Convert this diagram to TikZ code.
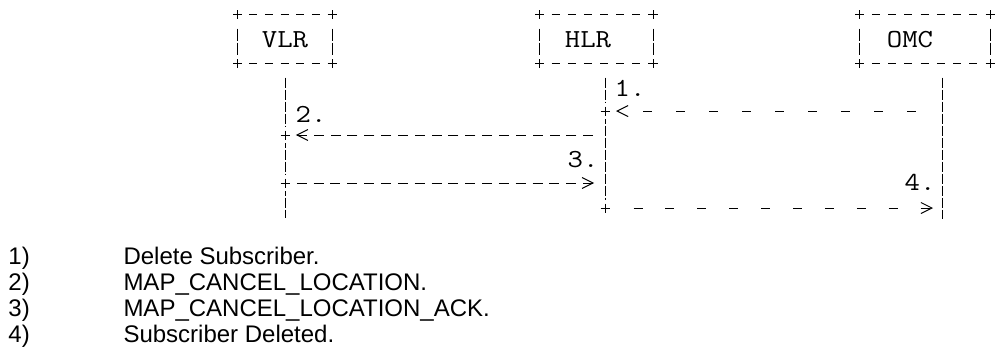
\documentclass[tikz,border=0pt]{standalone}
\usepackage{fontspec}
\usepackage{graphicx}
\setmainfont{Liberation Sans}
\usetikzlibrary{arrows.meta}
\newcommand\ascstr[1]{\scalebox{1.15}[1]{#1}}
\begin{document}
\begin{tikzpicture}[x=1pt, y=-1pt, line width=1pt,
  asc/.style={font=\ttfamily\fontsize{26}{26}\selectfont, inner sep=0pt, anchor=base},
  leg/.style={font=\fontsize{24}{26}\selectfont, inner sep=0pt, anchor=base west},
  ascbox/.style={draw=none, inner sep=0pt, minimum height=48pt, minimum width=#1},
  boxh/.style={dash pattern=on 8pt off #1, dash phase=4pt},
  boxv/.style={dash pattern=on 12pt off 2pt},
  life/.style={dash pattern=on 10pt off 2pt},
  dense/.style={dash pattern=on 10pt off 6.84pt},
  sparse/.style={dash pattern=on 9pt off #1},
  tip/.style={-{Straight Barb[length=11pt, width=11pt, line width=1pt]}},
  pls/.pic={\fill[white] (-3.5,-8) rectangle (3.5,8);
            \draw[solid] (-4.5,0) -- (4.5,0) (0,-4.5) -- (0,4.5);}
]
\useasboundingbox (0,0) rectangle (996,349);

% boxes
\node[ascbox=94pt]  (vlr) at (285,39)   {};
\node[ascbox=113pt] (hlr) at (596.5,39) {};
\node[ascbox=130pt] (omc) at (925,39)   {};
\node[asc] (vlrtxt) at (285,47) {\ascstr{VLR}};
\node[asc] (hlrtxt) at (588,47) {\ascstr{HLR}};
\node[asc] (omctxt) at (910,47) {\ascstr{OMC}};

\draw[boxh=7.67pt] (vlr.north west) -- (vlr.north east);
\draw[boxh=7.67pt] (vlr.south west) -- (vlr.south east);
\draw[boxh=8.14pt] (hlr.north west) -- (hlr.north east);
\draw[boxh=8.14pt] (hlr.south west) -- (hlr.south east);
\draw[boxh=8.25pt] (omc.north west) -- (omc.north east);
\draw[boxh=8.25pt] (omc.south west) -- (omc.south east);
\foreach \b in {vlr,hlr,omc}{
  \draw[boxv] ([yshift=-14pt]\b.north west) -- ([yshift=8pt]\b.south west);
  \draw[boxv] ([yshift=-14pt]\b.north east) -- ([yshift=8pt]\b.south east);
}

% lifeline ends and message points
\coordinate (vend) at (285,218);
\coordinate (hend) at (605,208);
\coordinate (oend) at (942,219);
\coordinate (h4) at (605,111);
\coordinate (o4) at (942,111);
\coordinate (h5) at (605,135);
\coordinate (v5) at (285,135);
\coordinate (v7) at (285,183);
\coordinate (h7) at (605,183);
\coordinate (o8) at (942,208);

% lifelines
\draw[life, shorten <=14pt] (vlr.south) -- (vend);
\draw[life, shorten <=14pt] (hlr.south -| hend) -- (hend);
\draw[life, shorten <=14pt] (omc.south -| oend) -- (oend);

% messages
\draw[sparse=24pt, tip, shorten <=26.5pt, shorten >=11pt] (o4) -- (h4);
\draw[dense, tip, shorten <=11.8pt, shorten >=10.8pt] (h5) -- (v5);
\draw[dense, tip, shorten <=11.8pt, shorten >=10.8pt] (v7) -- (h7);
\draw[sparse=22.9pt, tip, shorten <=28.5pt, shorten >=9pt] (hend) -- (o8);

% plus signs (corners and junctions)
\foreach \b in {vlr,hlr,omc}{
  \foreach \a in {north west,north east,south west,south east}{
    \pic at (\b.\a) {pls};
  }
}
\pic at (h4) {pls};
\pic at (v5) {pls};
\pic at (v7) {pls};
\pic at (hend) {pls};

% message numbers
\node[asc] (n1) at (630,96)  {\ascstr{1.}};
\node[asc] (n2) at (311,122) {\ascstr{2.}};
\node[asc] (n3) at (583,167) {\ascstr{3.}};
\node[asc] (n4) at (920,190) {\ascstr{4.}};

% legend
\node[leg] (l1) at (8,264) {1)};
\node[leg] (l2) at (8,290) {2)};
\node[leg] (l3) at (8,316) {3)};
\node[leg] (l4) at (8,342) {4)};
\node[leg] (t1) at (123,264) {Delete Subscriber.};
\node[leg] (t2) at (123,290) {MAP\_CANCEL\_LOCATION.};
\node[leg] (t3) at (123,316) {MAP\_CANCEL\_LOCATION\_ACK.};
\node[leg] (t4) at (123,342) {Subscriber Deleted.};
\end{tikzpicture}
\end{document}
